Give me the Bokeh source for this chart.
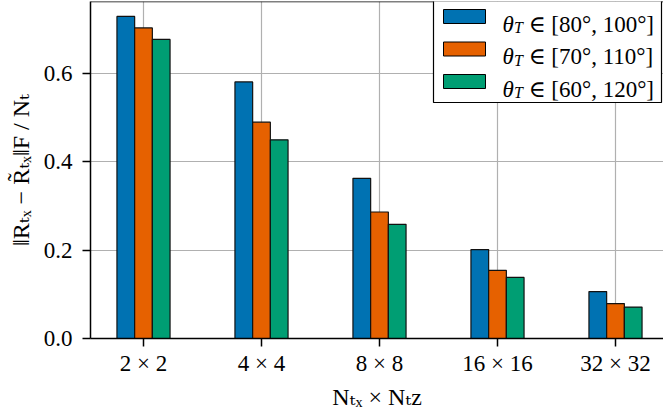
from bokeh.plotting import figure
from bokeh.models import (ColumnDataSource, FixedTicker, PrintfTickFormatter,
                          Label, BoxAnnotation, Span, Range1d)
from bokeh.embed import file_html
from bokeh.resources import INLINE

# ---------------- data ----------------
categories = ["2 × 2", "4 × 4", "8 × 8", "16 × 16", "32 × 32"]
legend_lo = [80, 70, 60]
legend_hi = [100, 110, 120]
err_80_100 = [0.728, 0.580, 0.362, 0.201, 0.106]
err_70_110 = [0.702, 0.489, 0.286, 0.154, 0.079]
err_60_120 = [0.676, 0.449, 0.258, 0.138, 0.071]
series = [err_80_100, err_70_110, err_60_120]
colors = ["#0072B2", "#E66100", "#009E73"]
y_ticks = [0.0, 0.2, 0.4, 0.6]
x_title = "Nₜₓ × Nₜz"
y_title = "‖Rₜₓ − R̃ₜₓ‖F / Nₜ"

SERIF = "'Liberation Serif', 'DejaVu Serif', serif"

# ---------------- layout (page px == picture px) ----------------
W, H = 663, 412
FRAME_L, FRAME_T, FRAME_B = 90, 1, 340
FRAME_W = W - FRAME_L
PX_PER_CAT = 118.0
PX_PER_UNIT = 445.0
x0 = -(143 - FRAME_L) / PX_PER_CAT
x1 = x0 + FRAME_W / PX_PER_CAT
Y_END = (FRAME_B - FRAME_T) / PX_PER_UNIT
BAR_W = 0.15

p = figure(width=W, height=H, output_backend="svg", toolbar_location=None,
           x_range=Range1d(x0, x1), y_range=Range1d(0, Y_END),
           min_border_left=FRAME_L, min_border_right=0,
           min_border_top=FRAME_T, min_border_bottom=H - FRAME_B)
p.outline_line_color = None
p.background_fill_color = "white"
p.border_fill_color = "white"

for g in (p.xgrid, p.ygrid):
    g.grid_line_color = "#b0b0b0"
    g.grid_line_width = 1.2

offsets = [-BAR_W, 0.0, BAR_W]
for vals, col, off in zip(series, colors, offsets):
    src = ColumnDataSource(dict(x=[i + off for i in range(len(categories))], top=vals))
    p.vbar(x="x", top="top", bottom=0, width=BAR_W, source=src,
           fill_color=col, line_color="#111111", line_width=1.2)

p.xaxis.ticker = FixedTicker(ticks=list(range(len(categories))))
p.xaxis.major_label_overrides = {i: c for i, c in enumerate(categories)}
p.yaxis.ticker = FixedTicker(ticks=y_ticks)
p.yaxis.formatter = PrintfTickFormatter(format="%.1f")
for ax in (p.xaxis, p.yaxis):
    ax.axis_line_color = "black"
    ax.axis_line_width = 1.5
    ax.major_tick_line_color = "black"
    ax.major_tick_line_width = 1.5
    ax.major_tick_out = 8
    ax.major_tick_in = 0
    ax.minor_tick_line_color = None
    ax.major_label_text_font = SERIF
    ax.major_label_text_font_size = "23px"
    ax.major_label_text_color = "black"
    ax.axis_label_text_font = SERIF
    ax.axis_label_text_font_size = "24px"
    ax.axis_label_text_font_style = "normal"
    ax.axis_label_text_color = "black"
p.xaxis.major_label_standoff = 4
p.yaxis.major_label_standoff = 10
p.xaxis.axis_label = x_title
p.yaxis.axis_label = y_title
p.xaxis.axis_label_standoff = 5
p.yaxis.axis_label_standoff = 7

p.add_layout(Span(location=Y_END, dimension="width", line_color="black", line_width=1.5))


def lab(text, px, py, size, style="normal"):
    """Legend text at page coords -> frame-relative screen units."""
    p.add_layout(Label(x=px - FRAME_L, y=FRAME_B - py, x_units="screen", y_units="screen",
                       text=text, text_font=SERIF, text_font_size=f"{size}px",
                       text_font_style=style, text_align="left",
                       text_baseline="alphabetic", text_color="black"))


def box(l, r, t, b, fill, lw=1.0):
    p.add_layout(BoxAnnotation(left=l - FRAME_L, right=r - FRAME_L,
                               top=FRAME_B - t, bottom=FRAME_B - b,
                               left_units="screen", right_units="screen",
                               top_units="screen", bottom_units="screen",
                               fill_color=fill, fill_alpha=1.0,
                               line_color="black", line_width=lw, line_alpha=1.0))


# legend
box(433, 661, 1.5, 104, "white", lw=1.2)
row_c = [18, 50.5, 83]
for c, col, lo, hi in zip(row_c, colors, legend_lo, legend_hi):
    box(443, 485, c - 7, c + 7, col, lw=1.0)
    b = c + 7.5
    lab("θ", 502, b, 23, style="italic")
    lab("T", 513.5, b + 3.5, 16, style="italic")
    lab(f"∈ [{lo}°, {hi}°]", 528, b, 23)

open("out.html", "w").write(file_html(p, INLINE))
